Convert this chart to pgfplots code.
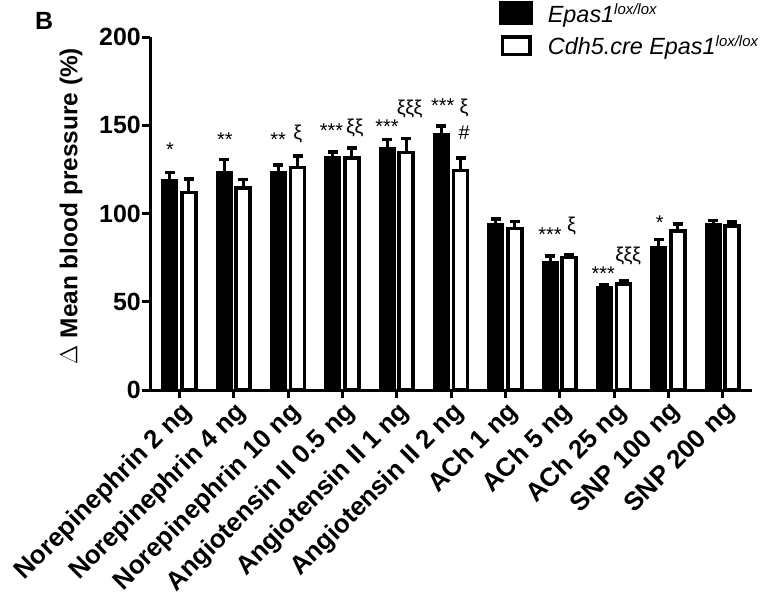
\documentclass[border=0pt]{standalone}
\usepackage{pgfplots}
\pgfplotsset{compat=1.18}
\usepackage{pgfplotstable}
\usepackage{fontspec}
\setmainfont{Liberation Sans}

\pgfplotstableread{
xb xw b be w we
-0.175 0.175 118.5 4.6 112.0 7.5
0.825 1.175 123.5 7.0 114.5 4.7
1.825 2.175 123.5 3.9 126.0 6.6
2.825 3.175 132.0 2.8 131.5 5.6
3.825 4.175 137.0 4.8 134.5 8.0
4.825 5.175 145.0 4.7 124.5 7.0
5.825 6.175 93.5 3.4 91.5 3.9
6.825 7.175 72.0 4.0 75.0 1.9
7.825 8.175 58.0 1.5 60.0 1.8
8.825 9.175 80.5 4.7 90.0 4.0
9.825 10.175 93.5 2.5 93.0 2.3
}\data

\newcommand{\ann}[1]{\fontsize{20}{20}\selectfont #1}
\newcommand{\xix}[1]{\fontsize{20}{20}\selectfont #1}

\begin{document}
\begin{tikzpicture}
\useasboundingbox (0bp,0bp) rectangle (771bp,-596bp);
\node[font=\fontsize{25}{25}\selectfont\bfseries, anchor=center] at (44bp,-21bp) {B};
\begin{axis}[
  at={(150bp,-390bp)}, anchor=south west,
  scale only axis, width=602bp, height=353bp,
  xmin=-0.54, xmax=10.54, ymin=0, ymax=200,
  axis x line*=bottom, axis y line*=left,
  axis line style={line width=3bp, black},
  tick align=outside, major tick length=8bp,
  every tick/.style={line width=3bp, black},
  xtick={0,...,10},
  xticklabels={Norepinephrin 2 ng, Norepinephrin 4 ng, Norepinephrin 10 ng, Angiotensin II 0.5 ng, Angiotensin II 1 ng, Angiotensin II 2 ng, ACh 1 ng, ACh 5 ng, ACh 25 ng, SNP 100 ng, SNP 200 ng},
  xticklabel style={rotate=45, anchor=north east, inner sep=1bp, font=\fontsize{26}{26}\selectfont\bfseries},
  ytick={0,50,100,150,200},
  yticklabel style={font=\fontsize{25}{25}\selectfont\bfseries, inner sep=1bp},
  /pgf/number format/assume math mode=true,
  ylabel={$\Delta$\textbf{ Mean blood pressure (\%)}},
  ylabel style={at={(axis description cs:-0.131,0.521)}, anchor=center, font=\fontsize{24.5}{24.5}\selectfont},
  legend style={at={(axis description cs:0.58,1.102)}, anchor=north west, draw=none, fill=none,
    font=\fontsize{23.5}{23.5}\selectfont\itshape, row sep=8bp, inner sep=0pt},
  legend cell align=left,
  clip=false,
]
\addplot[ybar, bar width=14bp, bar shift=0bp, fill=black, draw=black, line width=3bp,
  legend image code/.code={\fill[black] (0bp,-10.5bp) rectangle (31bp,10.5bp); \path[draw=none, fill=none] (0bp,0bp) -- (45bp,0bp);},
  error bars/.cd, y dir=plus, y explicit,
  error bar style={line width=3bp, black, solid},
  error mark options={rotate=90, line width=3.5bp, black, mark size=5bp}]
  table[x=xb, y=b, y error=be] {\data};
\addlegendentry{Epas1\raisebox{8bp}{\fontsize{15}{15}\selectfont lox/lox}}
\addplot[ybar, bar width=14bp, bar shift=0bp, fill=white, draw=black, line width=3.5bp,
  legend image code/.code={\draw[black, fill=white, line width=3.5bp] (1.75bp,-8.75bp) rectangle (29.25bp,8.75bp); \path[draw=none, fill=none] (0bp,0bp) -- (45bp,0bp);},
  error bars/.cd, y dir=plus, y explicit,
  error bar style={line width=3bp, black, solid},
  error mark options={rotate=90, line width=3.5bp, black, mark size=5bp}]
  table[x=xw, y=w, y error=we] {\data};
\addlegendentry{Cdh5.cre Epas1\raisebox{8bp}{\fontsize{15}{15}\selectfont lox/lox}}

\node at (axis cs:-0.17,136) {\ann{*}};
\node at (axis cs:0.84,142) {\ann{**}};
\node at (axis cs:1.82,142) {\ann{**}};
\node at (axis cs:2.18,145) {\xix{ξ}};
\node at (axis cs:2.80,147) {\ann{***}};
\node at (axis cs:3.23,148.5) {\xix{ξξ}};
\node at (axis cs:3.82,149) {\ann{***}};
\node at (axis cs:4.24,159) {\xix{ξξξ}};
\node at (axis cs:4.85,161) {\ann{***}};
\node at (axis cs:5.24,160) {\xix{ξ}};
\node at (axis cs:5.24,146) {\xix{\#}};
\node at (axis cs:6.82,88) {\ann{***}};
\node at (axis cs:7.22,93) {\xix{ξ}};
\node at (axis cs:7.80,66) {\ann{***}};
\node at (axis cs:8.26,76) {\xix{ξξξ}};
\node at (axis cs:8.84,95) {\ann{*}};
\end{axis}
\end{tikzpicture}
\end{document}
